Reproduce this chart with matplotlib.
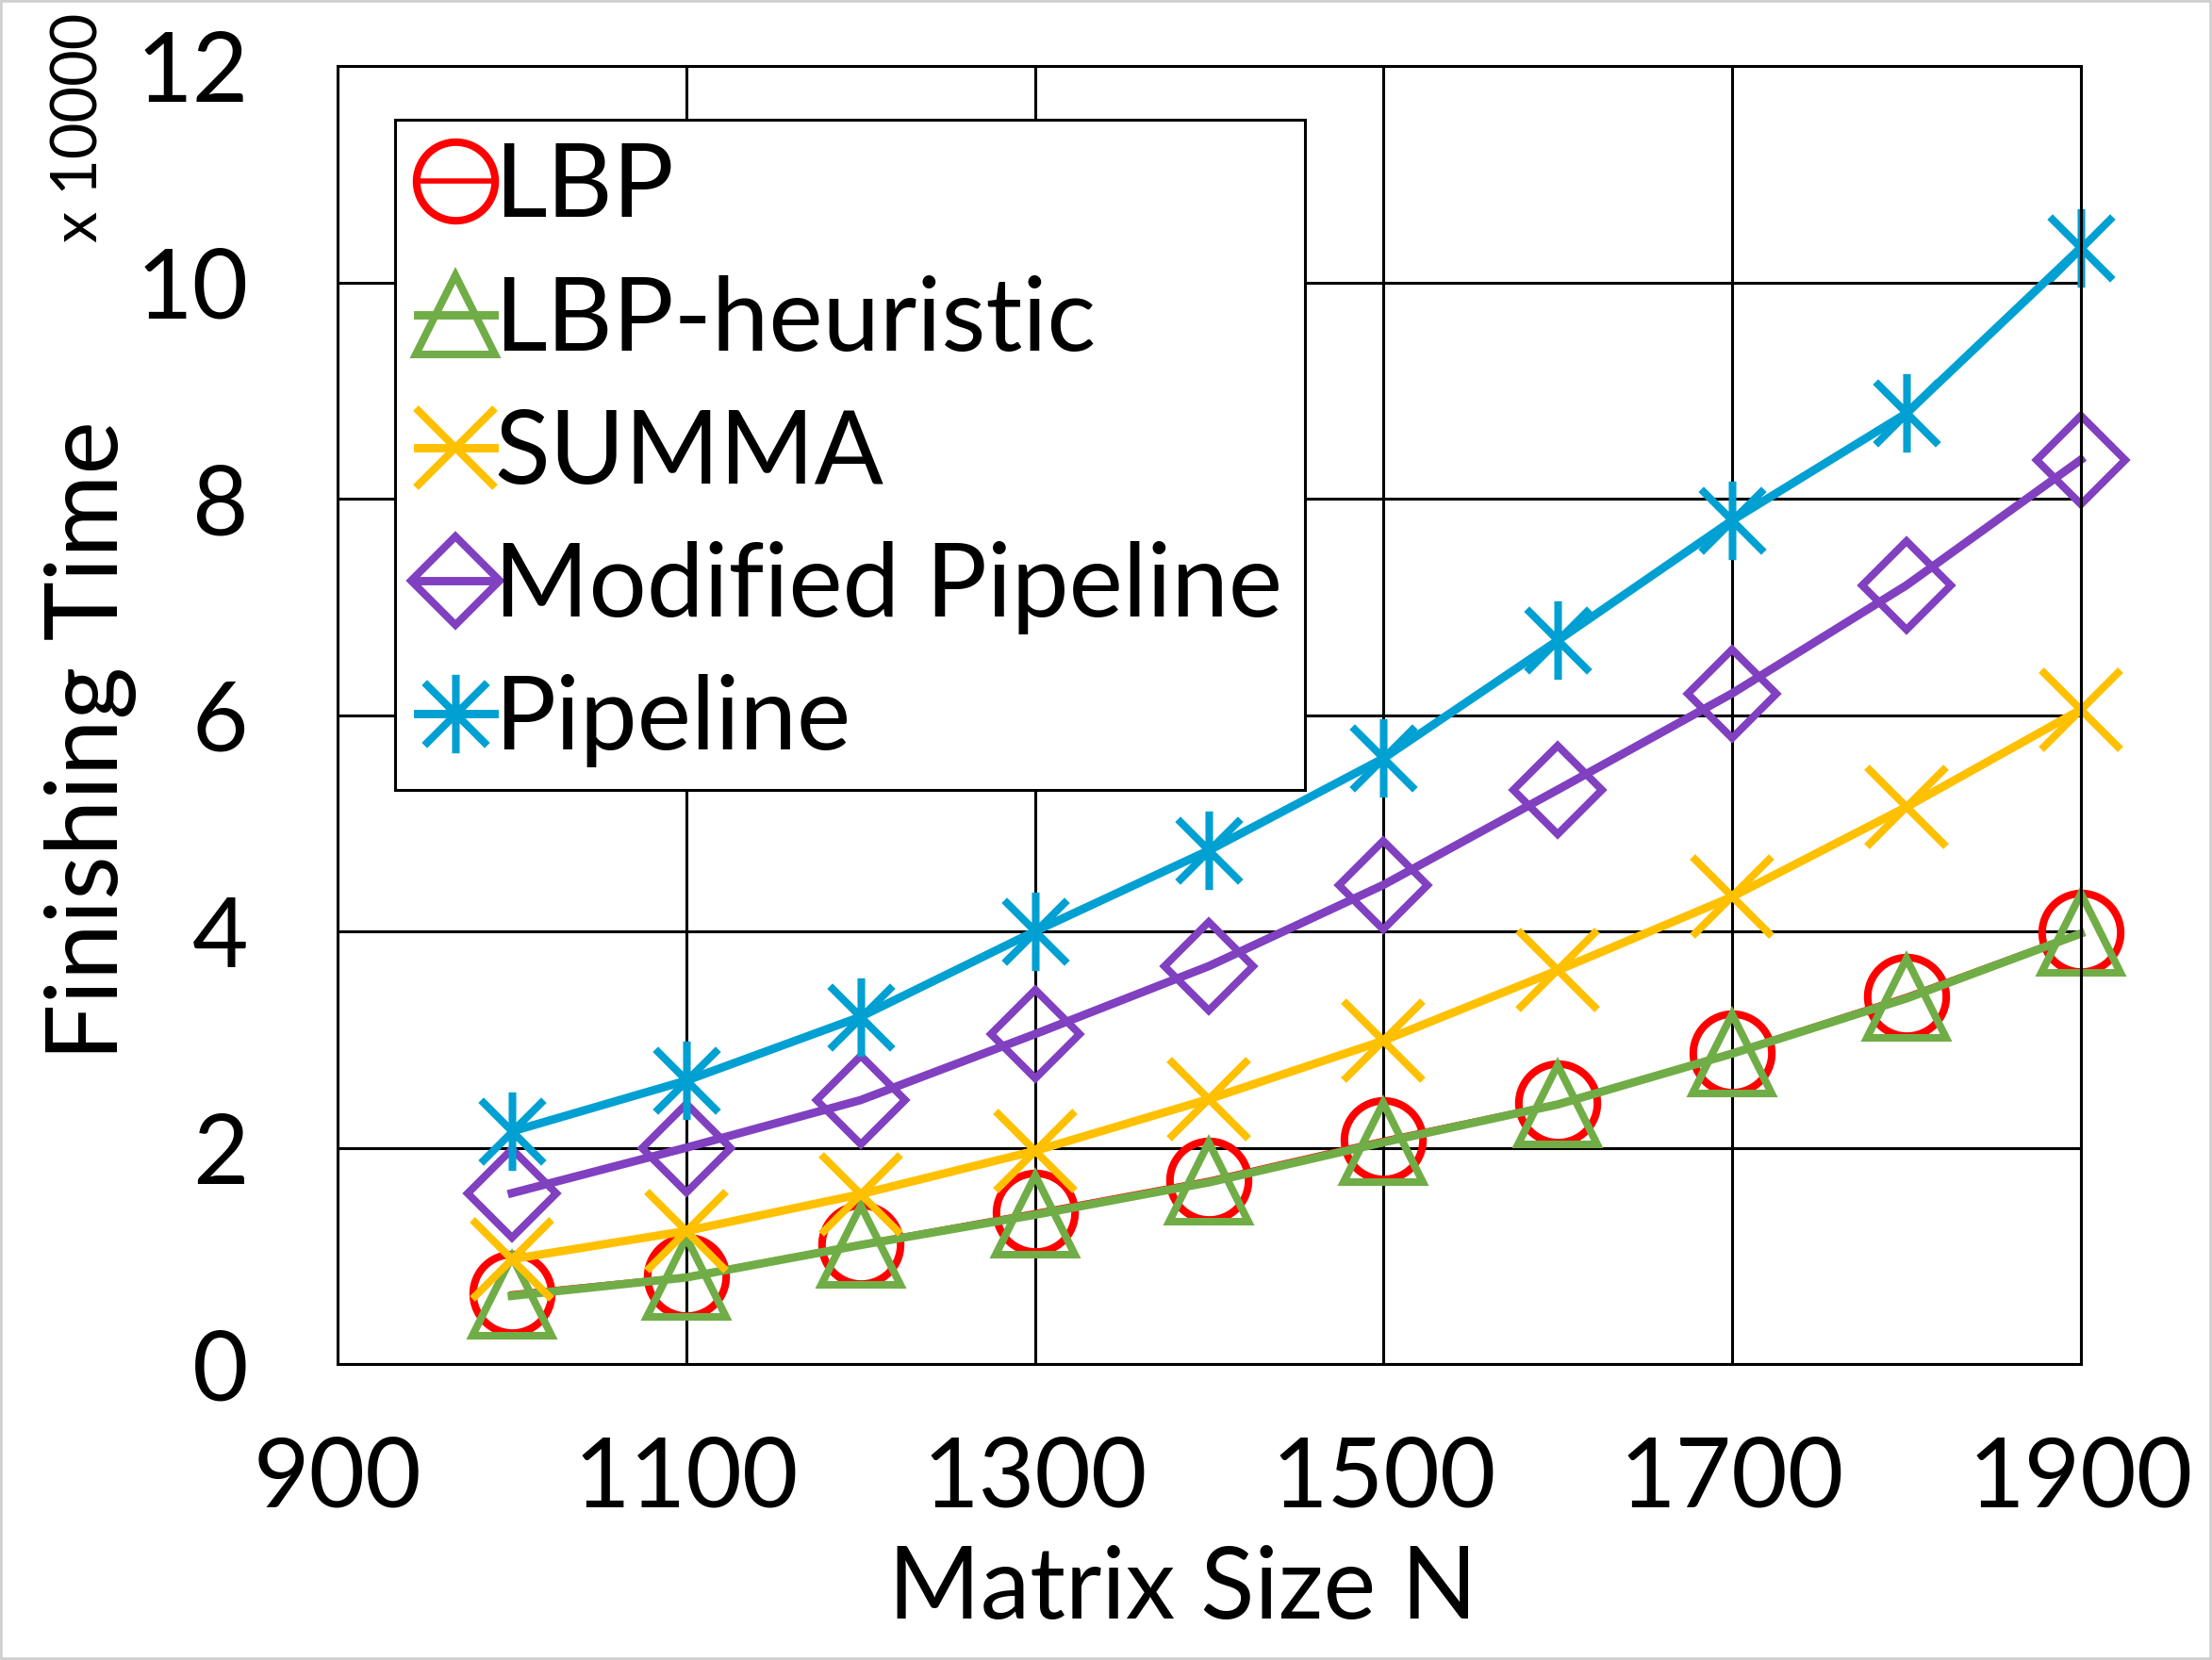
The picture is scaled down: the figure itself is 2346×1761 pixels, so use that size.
import matplotlib.pyplot as plt
from matplotlib.path import Path

plt.rcParams['font.family'] = ['Lato', 'DejaVu Sans']

# Data (finishing time, in units of 10000)
sizes = [1000, 1100, 1200, 1300, 1400, 1500, 1600, 1700, 1800, 1900]
lbp = [0.65, 0.81, 1.11, 1.40, 1.70, 2.07, 2.41, 2.88, 3.40, 3.99]
lbp_heur = [0.63, 0.80, 1.10, 1.38, 1.68, 2.05, 2.40, 2.87, 3.38, 3.98]
summa = [0.97, 1.23, 1.57, 1.97, 2.45, 2.99, 3.64, 4.32, 5.15, 6.05]
mod_pipeline = [1.58, 2.00, 2.44, 3.05, 3.68, 4.43, 5.31, 6.20, 7.20, 8.36]
pipeline = [2.15, 2.62, 3.21, 4.00, 4.75, 5.60, 6.69, 7.80, 8.79, 10.32]

xticks = [900, 1100, 1300, 1500, 1700, 1900]
yticks = [0, 2, 4, 6, 8, 10, 12]

# Excel-like star marker: vertical bar plus an X
star = Path([(0, -1), (0, 1), (-0.8, -0.8), (0.8, 0.8), (-0.8, 0.8), (0.8, -0.8)],
            [Path.MOVETO, Path.LINETO, Path.MOVETO, Path.LINETO, Path.MOVETO, Path.LINETO])

fig = plt.figure(figsize=(11.73, 8.805), dpi=200)
ax = fig.add_axes([0.1526, 0.1783, 0.7881, 0.7819])

ms = 30
mew = 2.9
lw = 3.2
ax.plot(sizes, lbp, color='#FF0000', lw=2.0, marker='o', ms=ms, mfc='none', mew=mew, label='LBP', clip_on=False)
ax.plot(sizes, lbp_heur, color='#70AD47', lw=lw, marker='^', ms=ms, mfc='none', mew=mew, label='LBP-heuristic', clip_on=False)
ax.plot(sizes, summa, color='#FFC000', lw=lw, marker='x', ms=ms, mew=mew, label='SUMMA', clip_on=False)
ax.plot(sizes, mod_pipeline, color='#8040C0', lw=lw, marker='D', ms=ms * 0.8, mfc='none', mew=mew, label='Modified Pipeline', clip_on=False)
ax.plot(sizes, pipeline, color='#00A0D2', lw=lw, marker=star, ms=ms, mew=mew, label='Pipeline', clip_on=False)

ax.set_xlim(900, 1900)
ax.set_ylim(0, 12)
ax.set_xticks(xticks)
ax.set_yticks(yticks)
ax.grid(True, color='black', lw=1.1)
ax.set_axisbelow(True)
for s in ax.spines.values():
    s.set_linewidth(1.1)
ax.tick_params(length=0, labelsize=37, pad=27)
ax.tick_params(axis='y', pad=34)

fig.text(0.5345, 0.025, 'Matrix Size N', fontsize=38, ha='center', va='baseline')
fig.text(0.041, 0.554, 'Finishing Time', fontsize=38.5, ha='center', va='center', rotation=90)
fig.text(0.036, 0.923, 'x 10000', fontsize=24, ha='center', va='center', rotation=90)

leg = ax.legend(loc='upper left', bbox_to_anchor=(0.033, 0.959), borderaxespad=0,
                fontsize=39, frameon=True, fancybox=False, edgecolor='black', framealpha=1,
                handlelength=0.75, handletextpad=0.0, labelspacing=0.39, borderpad=0.22)
leg.get_frame().set_linewidth(1.1)

# light grey border around the figure
fig.patches.append(plt.Rectangle((0, 0), 1, 1, transform=fig.transFigure, fill=False,
                                 edgecolor='#D0D0D0', lw=2))

fig.savefig('out.png', dpi=200)
